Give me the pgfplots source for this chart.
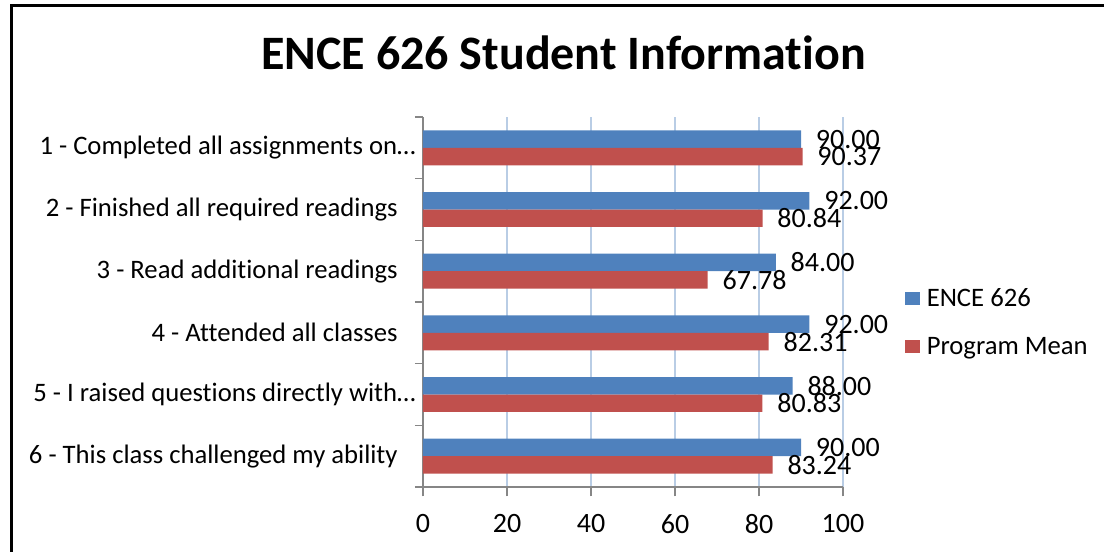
\documentclass[border=0pt]{standalone}
\usepackage{fontspec}
\setmainfont{Carlito}[Ligatures=NoCommon]
\usepackage{pgfplots}
\pgfplotsset{compat=1.18}
\definecolor{ebar}{HTML}{4F81BD}
\definecolor{pbar}{HTML}{C0504D}
\definecolor{axgray}{HTML}{868686}
\definecolor{gridblue}{HTML}{B9CDE5}
\newcommand{\pad}{\rule{13.5pt}{0pt}}
\begin{document}
\begin{tikzpicture}
\useasboundingbox (0pt,0pt) rectangle (828pt,-414pt);
\draw[line width=1.9pt,black] (8.5pt,-420pt) -- (8.5pt,-4pt) -- (835pt,-4pt);
\node[anchor=base,font=\fontsize{36pt}{40pt}\selectfont\bfseries] at (422.6pt,-52.5pt) {ENCE 626 Student Information};
\begin{axis}[
  at={(317.25pt,-365.25pt)}, anchor=south west,
  scale only axis, width=315pt, height=277.5pt,
  xbar, bar width=13.1pt,
  xmin=0, xmax=100, ymin=-0.5, ymax=5.5,
  axis x line*=bottom, axis y line*=left,
  axis line style={axgray, line width=1.2pt},
  every axis plot/.append style={draw=none},
  xtick={0,20,...,100},
  tick align=outside,
  major tick length=7pt,
  xtick style={axgray, line width=1.2pt},
  xmajorgrids,
  major grid style={gridblue, line width=1.2pt},
  ytick={0,...,5},
  ytick style={draw=none},
  yticklabels={{6 - This class challenged my ability\pad},
    {5 - I raised questions directly with…},
    {4 - Attended all classes\pad},
    {3 - Read additional readings\pad},
    {2 - Finished all required readings\pad},
    {1 - Completed all assignments on…}},
  extra y ticks={-0.5,0.5,...,5.5},
  extra y tick labels={},
  extra y tick style={ytick style={draw=axgray, line width=1.2pt}, major tick length=6pt},
  yticklabel style={font=\fontsize{20pt}{24pt}\selectfont, anchor=east, xshift=5pt},
  xticklabel style={font=\fontsize{21pt}{24pt}\selectfont, yshift=-10pt},
  /pgf/number format/assume math mode=true,
  nodes near coords,
  nodes near coords style={font=\fontsize{21pt}{24pt}\selectfont, anchor=west, inner sep=0pt, xshift=11pt,
    /pgf/number format/.cd, fixed, fixed zerofill, precision=2, assume math mode=true},
  legend style={at={(1.148,0.445)}, anchor=west, draw=none, fill=none, inner sep=0pt,
    font=\fontsize{20pt}{24pt}\selectfont, row sep=21.5pt, column sep=5pt,
    nodes={inner sep=0pt}},
  legend cell align=left,
  legend image code/.code={\fill[#1] (0pt,-5pt) rectangle (11pt,5pt);},
]
\addplot[fill=ebar, bar shift=6.55pt] coordinates {(90,5) (92,4) (84,3) (92,2) (88,1) (90,0)};
\addplot[fill=pbar, bar shift=-6.55pt] coordinates {(90.37,5) (80.84,4) (67.78,3) (82.31,2) (80.83,1) (83.24,0)};
\legend{ENCE 626, Program Mean}
\end{axis}
\end{tikzpicture}
\end{document}
